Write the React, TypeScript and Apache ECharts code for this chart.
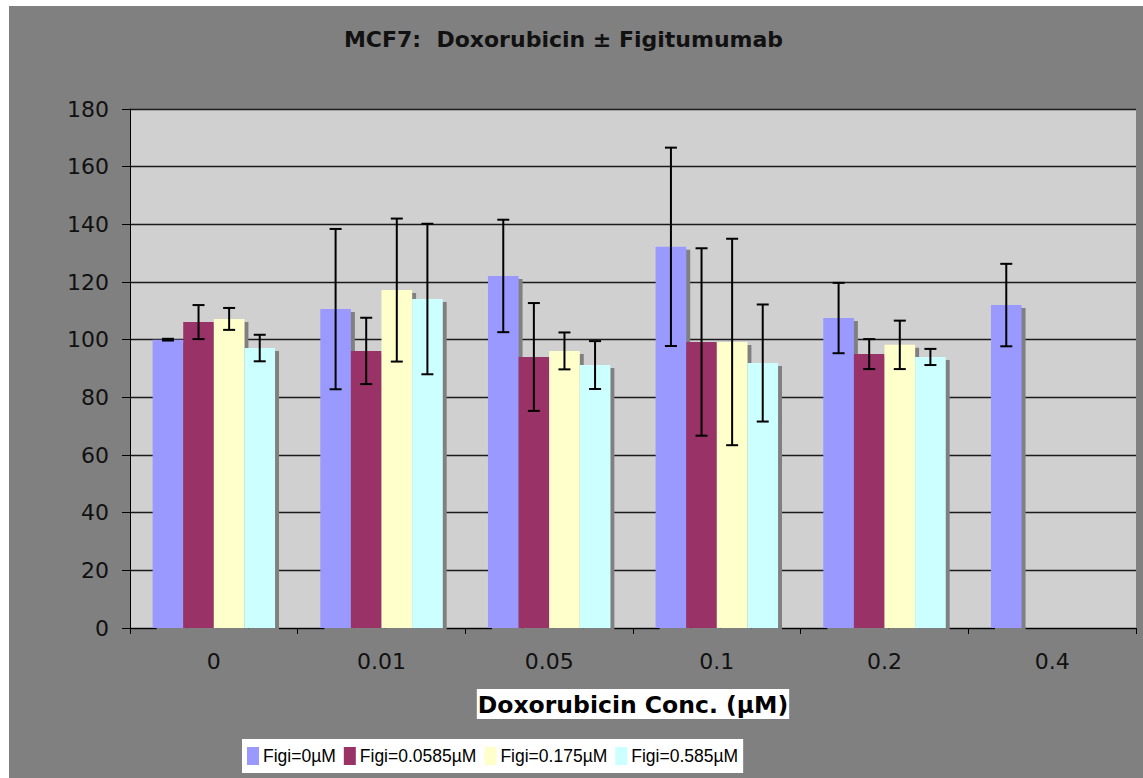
import React, { useEffect, useRef } from "react";
import * as echarts from "echarts";

const categories = ["0", "0.01", "0.05", "0.1", "0.2", "0.4"];
const seriesNames = ["Figi=0µM", "Figi=0.0585µM", "Figi=0.175µM", "Figi=0.585µM"];
const seriesColors = ["#9999ff", "#993366", "#ffffcc", "#ccffff"];

const figi0 = [100.0, 110.6, 122.1, 132.2, 107.5, 112.0];
const figi0Err = [0.3, 27.8, 19.5, 34.4, 12.2, 14.3];
const figi0585 = [106.1, 96.1, 94.0, 99.2, 95.0, null];
const figi0585Err = [5.9, 11.5, 18.7, 32.5, 5.2, null];
const figi175 = [107.2, 117.2, 96.1, 99.2, 98.2, null];
const figi175Err = [3.8, 24.8, 6.4, 35.8, 8.4, null];
const figi585 = [97.1, 114.1, 91.2, 91.9, 94.0, null];
const figi585Err = [4.6, 26.1, 8.3, 20.3, 2.8, null];

const yTicks = { min: 0, max: 180, interval: 20 };

const CAT_GAP = 0.27;

export default function App() {
  const ref = useRef<HTMLDivElement>(null);

  useEffect(() => {
    const chart = echarts.init(ref.current!, null, { renderer: "svg" });
    const valueSets = [figi0, figi0585, figi175, figi585];
    const errSets = [figi0Err, figi0585Err, figi175Err, figi585Err];
    const errData: number[][] = [];
    valueSets.forEach((vals, s) =>
      vals.forEach((v, i) => {
        const e = errSets[s][i];
        if (v != null && e != null) errData.push([i, s, v as number, e as number]);
      })
    );

    const barSeries = valueSets.map((vals, s) => ({
      type: "bar",
      name: seriesNames[s],
      data: vals,
      barGap: "0%",
      barCategoryGap: CAT_GAP * 100 + "%",
      itemStyle: {
        color: seriesColors[s],
        shadowColor: "#808080",
        shadowBlur: 0,
        shadowOffsetX: 4,
        shadowOffsetY: 3,
      },
      emphasis: { disabled: true },
    }));

    chart.setOption({
      animation: false,
      backgroundColor: "#808080",
      textStyle: { fontFamily: "DejaVu Sans" },
      title: {
        text: "MCF7:  Doxorubicin ± Figitumumab",
        left: 554.5,
        top: 22,
        padding: 0,
        textAlign: "center",
        textStyle: {
          fontFamily: "DejaVu Sans",
          fontWeight: "bold",
          fontSize: 22,
          color: "#111",
        },
      },
      legend: {
        data: seriesNames,
        left: 233,
        top: 733,
        padding: [8, 5, 8, 5],
        backgroundColor: "#ffffff",
        icon: "rect",
        itemWidth: 12,
        itemHeight: 18,
        itemGap: 8,
        itemStyle: { shadowBlur: 0, shadowOffsetX: 0, shadowOffsetY: 0, shadowColor: "transparent" },
        textStyle: {
          fontFamily: "Liberation Sans",
          fontSize: 17.5,
          color: "#000",
          padding: [0, 0, 0, -1],
        },
      },
      grid: {
        left: 121,
        right: 7,
        top: 103,
        bottom: 150,
        show: true,
        backgroundColor: "#d0d0d0",
        borderWidth: 0,
      },
      xAxis: {
        type: "category",
        data: categories,
        name: "Doxorubicin Conc. (µM)",
        nameLocation: "middle",
        nameGap: 61,
        nameTextStyle: {
          fontFamily: "DejaVu Sans",
          fontWeight: "bold",
          fontSize: 23.5,
          color: "#000",
          backgroundColor: "#ffffff",
          padding: [4, 1, 2, 1],
        },
        axisLine: { show: true, lineStyle: { color: "#000", width: 1 } },
        axisTick: { show: true, alignWithLabel: false, length: 6, lineStyle: { color: "#000" } },
        axisLabel: { fontFamily: "DejaVu Sans", fontSize: 22, color: "#111", margin: 22 },
        splitLine: { show: false },
      },
      yAxis: {
        type: "value",
        min: yTicks.min,
        max: yTicks.max,
        interval: yTicks.interval,
        axisLine: { show: true, lineStyle: { color: "#000", width: 1 } },
        axisTick: { show: true, length: 8, lineStyle: { color: "#000" } },
        axisLabel: { fontFamily: "DejaVu Sans", fontSize: 22, color: "#111", margin: 21 },
        splitLine: {
          show: true,
          lineStyle: {
            color: "#1a1a1a",
            width: 1.4,
          },
        },
      },
      series: [
        ...barSeries,
        {
          type: "custom",
          name: "errors",
          data: errData,
          encode: { x: 0, y: 2 },
          z: 5,
          silent: true,
          renderItem: (params: any, api: any) => {
            const cat = api.value(0);
            const s = api.value(1);
            const v = api.value(2);
            const e = api.value(3);
            const band = api.size([1, 0])[0];
            const bw = (band * (1 - CAT_GAP)) / 4;
            const cx = api.coord([cat, v])[0] + (s - 1.5) * bw;
            const top = api.coord([cat, v + e])[1];
            const bot = api.coord([cat, v - e])[1];
            const half = 6;
            const style = { stroke: "#000", lineWidth: 2 };
            return {
              type: "group",
              children: [
                { type: "line", shape: { x1: cx, y1: top, x2: cx, y2: bot }, style },
                { type: "line", shape: { x1: cx - half, y1: top, x2: cx + half, y2: top }, style },
                { type: "line", shape: { x1: cx - half, y1: bot, x2: cx + half, y2: bot }, style },
              ],
            };
          },
        },
      ],
    });
    return () => chart.dispose();
  }, []);

  return (
    <div
      ref={ref}
      style={{ position: "absolute", left: 9, top: 6, width: 1134, height: 772, background: "#808080" }}
    />
  );
}
